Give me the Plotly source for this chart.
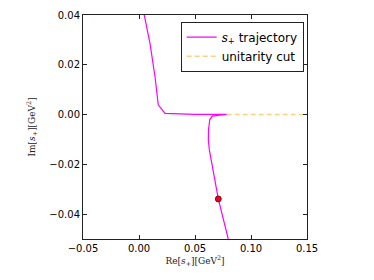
import plotly.graph_objects as go

# s+ trajectory (Re, Im) in GeV^2
traj_re = [0.0020, 0.0045, 0.0098, 0.0143, 0.0172, 0.0232, 0.0350, 0.0500, 0.0650, 0.0783,
           0.0720, 0.0655, 0.0632, 0.0621, 0.0619, 0.0628, 0.0663, 0.0708, 0.0797, 0.0820]
traj_im = [0.0460, 0.0400, 0.0286, 0.0152, 0.0039, 0.0005, 0.0002, 0.0001, 0.0001, 0.0001,
           -0.0002, -0.0006, -0.0020, -0.0060, -0.0102, -0.0142, -0.0236, -0.0339, -0.0500, -0.0540]

# unitarity cut
cut_re = [0.0783, 0.1600]
cut_im = [0.0, 0.0]

# marked point
pt_re = [0.0708]
pt_im = [-0.0339]

x_ticks = [-0.05, 0.00, 0.05, 0.10, 0.15]
y_ticks = [-0.04, -0.02, 0.00, 0.02, 0.04]

fig = go.Figure()
fig.add_trace(go.Scatter(
    x=traj_re, y=traj_im, mode="lines",
    line=dict(color="#ff00ff", width=1.2),
    name="<span style='font-family:DejaVu Serif'><i>s</i><sub>+</sub></span> trajectory",
))
fig.add_trace(go.Scatter(
    x=cut_re, y=cut_im, mode="lines",
    line=dict(color="rgba(255,165,0,0.5)", width=1.5, dash="5px,3px"),
    name="unitarity cut",
))
fig.add_trace(go.Scatter(
    x=pt_re, y=pt_im, mode="markers",
    marker=dict(color="#e8002a", size=6, line=dict(color="#660000", width=0.8)),
    showlegend=False,
))

axis_common = dict(
    showgrid=False, zeroline=False, automargin=False,
    showline=True, linecolor="#222", linewidth=1, mirror="allticks",
    ticks="inside", ticklen=4, tickcolor="#222",
    tickfont=dict(family="DejaVu Sans", size=10, color="black"),
    tickformat=".2f",
)

fig.update_layout(
    width=374, height=280,
    margin=dict(l=75, r=75, t=7, b=49),
    paper_bgcolor="white", plot_bgcolor="white",
    xaxis=dict(range=[-0.05, 0.15], tickvals=x_ticks, **axis_common,
               title=dict(text="Re[<i>s</i><sub>+</sub>][GeV<sup>2</sup>]",
                          font=dict(family="DejaVu Serif", size=9, color="#222"), standoff=4)),
    yaxis=dict(range=[-0.05, 0.04], tickvals=y_ticks, **axis_common,
               title=dict(text="Im[<i>s</i><sub>+</sub>][GeV<sup>2</sup>]",
                          font=dict(family="DejaVu Serif", size=9, color="#222"), standoff=12)),
    legend=dict(x=0.985, y=0.97, xanchor="right", yanchor="top",
                bgcolor="white", bordercolor="#222", borderwidth=1,
                font=dict(family="DejaVu Sans", size=12, color="black"),
                tracegroupgap=0, itemwidth=30),
    showlegend=True,
)

fig.write_html("out.html")
